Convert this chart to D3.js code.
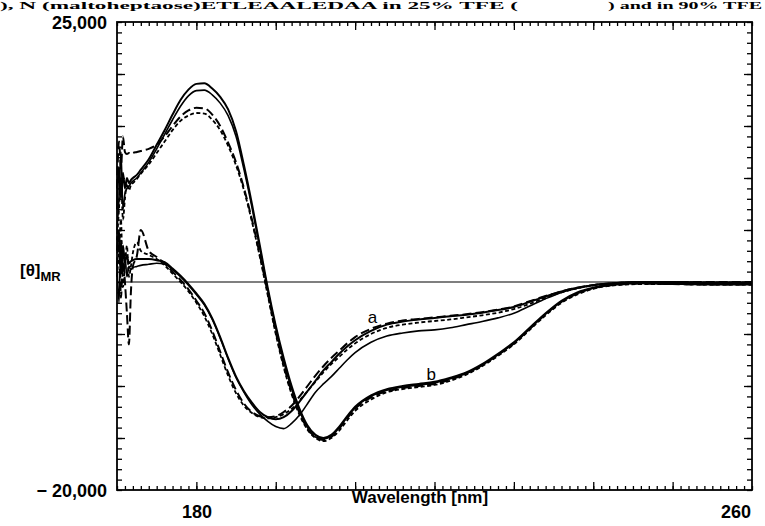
<!DOCTYPE html>
<html>
<head>
<meta charset="utf-8">
<script src="https://cdn.jsdelivr.net/npm/d3@7/dist/d3.min.js"></script>
<style>
  html, body { margin: 0; padding: 0; background: #fff; }
  svg { display: block; }
</style>
</head>
<body>
<svg id="chart" width="765" height="526"></svg>
<script>
// ---------------- DATA ----------------
const wavelength = [180, 180.25, 180.5, 180.75, 181, 181.25, 181.5, 181.75, 182, 182.5, 183,
  184, 185, 186, 187, 188, 189, 190, 191, 192, 193, 194, 195, 196, 197, 198, 199, 200,
  201, 202, 203, 204, 205, 206, 207, 208, 209, 210, 212, 214, 216, 218, 220, 222, 224,
  226, 228, 230, 232, 234, 236, 238, 240, 243, 246, 250, 255, 260];

// curve family "b" (helix-like)
const b1 = [7000, 11000, 8000, 10500, 9000, 10000, 9500, 9800, 10000, 10300, 10800,
  11800, 13200, 14600, 16100, 17500, 18500, 19050, 19100, 18600, 17800, 16600, 14500, 11200, 7500, 3500, -600, -4200,
  -7300, -10000, -12200, -13800, -14700, -15000, -14700, -13900, -12900, -12000, -10900, -10300, -10000, -9800, -9600, -9200, -8700,
  -7900, -6900, -5800, -4400, -3000, -1800, -1000, -550, -200, -100, -150, -200, -200];
const b2 = [5000, 8000, 12500, 7000, 8500, 9000, 9200, 9500, 9700, 10000, 10500,
  11500, 12800, 14200, 15600, 16900, 17900, 18400, 18450, 18000, 17200, 16000, 14000, 10800, 7200, 3200, -800, -4400,
  -7600, -10300, -12400, -14000, -14900, -15100, -14800, -14000, -13000, -12100, -11000, -10400, -10100, -9900, -9700, -9300, -8800,
  -8000, -7000, -5900, -4500, -3100, -1900, -1100, -600, -250, -150, -200, -250, -250];
const b3 = [9000, 13500, 11000, 14000, 12500, 12300, 12400, 12300, 12400, 12500, 12600,
  12800, 13200, 14000, 15000, 15900, 16500, 16750, 16700, 16100, 15000, 13400, 11500, 9000, 6000, 2600, -1100, -4800,
  -8000, -10600, -12600, -14100, -14900, -15200, -14900, -14100, -13100, -12200, -11100, -10500, -10200, -10000, -9800, -9400, -8800,
  -8000, -7000, -5900, -4500, -3100, -1900, -1100, -600, -250, -150, -200, -250, -250];
const b4 = [4000, 7000, 10000, 6000, 8000, 9500, 8800, 9300, 9500, 9900, 10400,
  11300, 12400, 13500, 14600, 15500, 16000, 16250, 16200, 15600, 14600, 13100, 11200, 8800, 5800, 2400, -1300, -5000,
  -8200, -10800, -12800, -14200, -15000, -15300, -15000, -14300, -13300, -12400, -11300, -10600, -10300, -10100, -9900, -9500, -8900,
  -8100, -7100, -6000, -4600, -3200, -2000, -1200, -650, -300, -200, -200, -250, -250];

// curve family "a"
const a1 = [2000, -2000, 4000, 1000, 2500, 500, 1500, 1200, 1400, 1500, 1600,
  1700, 1800, 1700, 1200, 500, -300, -1200, -2200, -3600, -5400, -7400, -9200, -10600, -11800, -12700, -13400, -13900,
  -14100, -13600, -12800, -11700, -10600, -9800, -9100, -8300, -7500, -6800, -5800, -5200, -4900, -4700, -4600, -4400, -4100,
  -3800, -3450, -3000, -2300, -1600, -1000, -600, -300, -100, 0, -50, -100, -100];
const a2 = [3000, 5000, 1000, 3500, 2000, 2500, 1800, 2000, 2100, 2200, 2200,
  2200, 2100, 1900, 1300, 600, -200, -1100, -2100, -3500, -5300, -7300, -9100, -10500, -11600, -12500, -13000, -13200,
  -13000, -12400, -11500, -10500, -9500, -8500, -7700, -6900, -6200, -5600, -4700, -4100, -3800, -3600, -3450, -3300, -3150,
  -2950, -2700, -2400, -1900, -1400, -900, -550, -300, -100, 0, 0, -50, -50];
const a3 = [1500, 4500, -1500, 2500, 0, -3000, -6000, -1000, 1500, 2500, 5000,
  3000, 2400, 1800, 1000, 200, -700, -1800, -3000, -4700, -6700, -8700, -10400, -11700, -12500, -12900, -13000, -12900,
  -12500, -11900, -11000, -10000, -9000, -8100, -7300, -6600, -5900, -5300, -4500, -4000, -3700, -3550, -3400, -3250, -3100,
  -2900, -2650, -2350, -1850, -1350, -900, -550, -300, -100, 0, 0, 0, 0];
const a4 = [500, 3000, 6000, -500, 1500, 3500, 500, 1500, 2800, 3800, 3000,
  2600, 2200, 1600, 800, 0, -900, -2000, -3300, -5000, -7000, -9000, -10700, -11900, -12600, -13000, -13100, -13000,
  -12700, -12200, -11400, -10500, -9600, -8700, -7900, -7200, -6500, -5900, -5000, -4400, -4100, -3900, -3750, -3600, -3400,
  -3200, -2950, -2600, -2100, -1500, -1000, -600, -350, -100, 0, 0, -50, -50];

const xDomain = [180, 260];
const yDomain = [-20000, 25000];
const yTickLabels = ["25,000", "\u2212 20,000"];
const xTickLabels = ["180", "260"];
const curveLabels = [{ text: "a", wl: 212.2, val: -3900 }, { text: "b", wl: 219.6, val: -9450 }];
const titleParts = ["), N (maltoheptaose)ETLEAALEDAA in 25% TFE (", ") and in 90% TFE"];

// ---------------- DRAW ----------------
const svg = d3.select("#chart");
const L = 117, R = 752, T = 22, B = 490;
const x = d3.scaleLinear().domain(xDomain).range([L, R]);
const y = d3.scaleLinear().domain(yDomain).range([B, T]);

// title line at very top
const titleG = svg.append("g").attr("font-family", "'Liberation Serif', 'DejaVu Serif', serif")
  .attr("font-weight", "bold").attr("font-size", 10.5).attr("fill", "#000");
titleG.append("text").attr("x", 0).attr("y", 9)
  .attr("textLength", 518).attr("lengthAdjust", "spacingAndGlyphs")
  .text(titleParts[0]);
titleG.append("text").attr("x", 608).attr("y", 9)
  .attr("textLength", 154).attr("lengthAdjust", "spacingAndGlyphs")
  .text(titleParts[1]);

const plot = svg.append("g");

// zero line
plot.append("line").attr("x1", L).attr("x2", R).attr("y1", y(0)).attr("y2", y(0))
  .attr("stroke", "#000").attr("stroke-width", 1.2);

// axes ticks
const xMinor = d3.range(180, 261, 1);
const xMajor = d3.range(190, 260, 10);
const yMinor = d3.range(-20000, 25001, 1000);
const yMajor = d3.range(-15000, 25000, 5000);

function tickAxis(axisFn, scale, values, size, transform) {
  const g = plot.append("g").attr("transform", transform)
    .call(axisFn(scale).tickValues(values).tickSizeInner(size).tickSizeOuter(0).tickFormat(""));
  g.select(".domain").remove();
  g.selectAll("line").attr("stroke", "#000").attr("stroke-width", 1.3);
  return g;
}
tickAxis(d3.axisBottom, x, xMinor, -4, `translate(0,${B})`);
tickAxis(d3.axisBottom, x, xMajor, -8, `translate(0,${B})`);
tickAxis(d3.axisTop, x, xMinor, -4, `translate(0,${T})`);
tickAxis(d3.axisTop, x, xMajor, -8, `translate(0,${T})`);
tickAxis(d3.axisLeft, y, yMinor, -5, `translate(${L},0)`);
tickAxis(d3.axisLeft, y, yMajor, -8, `translate(${L},0)`);
tickAxis(d3.axisRight, y, yMinor, -5, `translate(${R},0)`);
tickAxis(d3.axisRight, y, yMajor, -8, `translate(${R},0)`);

// frame
plot.append("rect").attr("x", L).attr("y", T).attr("width", R - L).attr("height", B - T)
  .attr("fill", "none").attr("stroke", "#000").attr("stroke-width", 1.8);

// curves
const series = [
  { v: b1, dash: null, w: 2.0 },
  { v: b2, dash: null, w: 1.6 },
  { v: b3, dash: "9,4", w: 2.0 },
  { v: b4, dash: "4,2.5", w: 1.8 },
  { v: a1, dash: null, w: 1.6 },
  { v: a2, dash: null, w: 2.0 },
  { v: a3, dash: "9,4", w: 2.0 },
  { v: a4, dash: "4,2.5", w: 1.8 }
];
const line = d3.line().x((d, i) => x(wavelength[i])).y(d => y(d)).curve(d3.curveMonotoneX);
plot.selectAll("path.curve").data(series).enter().append("path")
  .attr("class", "curve")
  .attr("d", s => line(s.v))
  .attr("fill", "none").attr("stroke", "#000")
  .attr("stroke-width", s => s.w)
  .attr("stroke-dasharray", s => s.dash)
  .attr("stroke-linejoin", "round");

// curve labels
plot.selectAll("text.clab").data(curveLabels).enter().append("text")
  .attr("class", "clab")
  .attr("x", d => x(d.wl)).attr("y", d => y(d.val))
  .attr("text-anchor", "middle")
  .attr("font-family", "'Liberation Sans', Arial, sans-serif")
  .attr("font-size", 17).attr("fill", "#000")
  .text(d => d.text);

// tick labels
const labFont = "'Liberation Sans', Arial, sans-serif";
svg.selectAll("text.ylab").data(yTickLabels).enter().append("text")
  .attr("class", "ylab")
  .attr("x", 107).attr("y", (d, i) => y(yDomain[1 - i]) + 7)
  .attr("text-anchor", "end")
  .attr("font-family", labFont).attr("font-weight", "bold").attr("font-size", 18)
  .text(d => d);
svg.selectAll("text.xlab").data(xTickLabels).enter().append("text")
  .attr("class", "xlab")
  .attr("x", (d, i) => x(xDomain[i]) + (i === 0 ? 80 : -16))
  .attr("y", 518)
  .attr("text-anchor", "middle")
  .attr("font-family", labFont).attr("font-weight", "bold").attr("font-size", 18)
  .text(d => d);

// axis title
svg.append("text").attr("x", 420).attr("y", 503).attr("text-anchor", "middle")
  .attr("font-family", labFont).attr("font-weight", "bold").attr("font-size", 17)
  .text("Wavelength [nm]");

// y label [θ]MR
const yl = svg.append("text").attr("x", 20).attr("y", 276)
  .attr("font-family", labFont).attr("font-weight", "bold").attr("font-size", 17);
yl.append("tspan").text("[\u03B8]");
yl.append("tspan").attr("dy", 5).attr("font-size", 13).text("MR");
</script>
</body>
</html>
